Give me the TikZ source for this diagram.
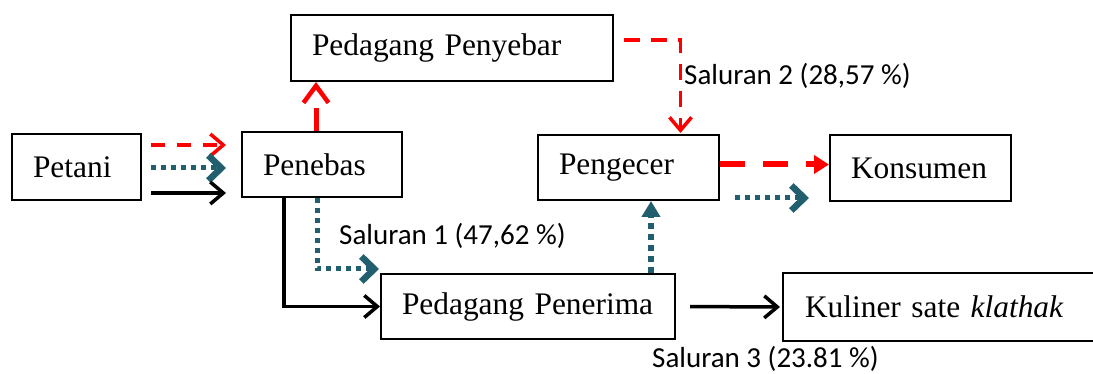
\documentclass[tikz,border=0pt]{standalone}
\usepackage{fontspec}
\setmainfont{Liberation Serif}
\newfontfamily\lblfont{Carlito}
\usetikzlibrary{arrows.meta,calc}
\definecolor{tealc}{RGB}{33,94,110}
\definecolor{redc}{RGB}{255,0,0}
\begin{document}
\begin{tikzpicture}[x=1pt,y=-1pt,
  box/.style={draw=black, line width=2pt, anchor=north west, inner ysep=0pt, inner xsep=21pt,
    align=left, font=\fontsize{31.4}{36}\selectfont},
  lbl/.style={anchor=base west, inner sep=0pt, font=\lblfont\fontsize{29}{33}\selectfont},
  blk/.style={draw=black, line width=3.5pt, -{Straight Barb[length=13pt,width=22pt,line width=3.5pt]}},
  redthin/.style={draw=redc, line width=3.5pt, dash pattern=on 14pt off 12pt,
    -{Straight Barb[length=13pt,width=22pt,line width=3.5pt]}},
  redthick/.style={draw=redc, line width=5pt, dash pattern=on 23pt off 30pt,
    -{Straight Barb[length=17pt,width=25pt,line width=4.5pt]}},
  redfill/.style={draw=redc, line width=6pt, dash pattern=on 25pt off 18pt,
    -{Triangle[length=15pt,width=18pt]}},
  tealdot/.style={draw=tealc, line width=5pt, dash pattern=on 5pt off 5pt,
    -{Straight Barb[length=13pt,width=25pt,line width=6.5pt]}},
  tealfill/.style={draw=tealc, line width=5.5pt, dash pattern=on 6pt off 5pt,
    -{Triangle[length=16pt,width=18pt]}}
]
\useasboundingbox (0,0) rectangle (1093,374);
\clip (0,0) rectangle (1093,374);

% boxes
\node[box, text width=87pt,  minimum height=66pt] (petani)   at (11,133)  {Petani};
\node[box, text width=118pt, minimum height=65pt] (penebas)  at (241,131) {Penebas};
\node[box, text width=280pt, minimum height=66pt] (penyebar) at (290,14)  {Pedagang Penyebar};
\node[box, text width=139pt, minimum height=65pt] (pengecer) at (537,134) {Pengecer};
\node[box, text width=139pt, minimum height=66pt] (konsumen) at (829,134) {Konsumen};
\node[box, text width=252pt, minimum height=65pt] (penerima) at (380,273) {Pedagang Penerima};
\node[box, draw=none, text width=340pt, minimum height=66pt] (kuliner) at (783,273) {Kuliner sate \textit{klathak}};
\draw[line width=2pt] (kuliner.north east) -- (kuliner.north west) -- (kuliner.south west) -- (kuliner.south east);

% Petani -> Penebas
\coordinate (r0) at ($(petani.east)+(9,-22)$);
\coordinate (t0) at ($(petani.east)+(9,1)$);
\coordinate (b0) at ($(petani.east)+(9,26)$);
\draw[redthin] (r0) -- ($(r0 -| penebas.west)+(-15,0)$);
\draw[tealdot] (t0) -- ($(t0 -| penebas.west)+(-15,0)$);
\draw[blk] (b0) -- ($(b0 -| penebas.west)+(-15,0)$);

% Penebas -> Pedagang Penyebar
\coordinate (p0) at ($(penebas.north)+(-6,0)$);
\draw[redthick] (p0) -- (p0 |- penyebar.south);

% Pedagang Penyebar -> Pengecer
\coordinate (s0) at ($(penyebar.east)+(10,-8)$);
\coordinate (s1) at ($(pengecer.north)+(52,-1)$);
\draw[redthin, dash pattern=on 16pt off 11pt] (s0) -| (s1);

% Pengecer -> Konsumen
\coordinate (k0) at ($(pengecer.east)+(0,-3)$);
\draw[redfill] (k0) -- (k0 -| konsumen.west);
\coordinate (k1) at ($(pengecer.east)+(15,30.5)$);
\draw[tealdot] (k1) -- ($(k1 -| konsumen.west)+(-20,0)$);

% Pedagang Penerima -> Pengecer
\coordinate (q0) at ($(penerima.north)+(123,0)$);
\draw[tealfill] (q0) -- (q0 |- pengecer.south);

% Penebas -> Pedagang Penerima
\coordinate (d0) at ($(penebas.south)+(-5,0)$);
\draw[tealdot] (d0) |- ($(penerima.north west)+(-1,-4)$);
\coordinate (e0) at ($(penebas.south)+(-38,0)$);
\draw[blk] (e0) |- (penerima.west);

% Pedagang Penerima -> Kuliner
\draw[blk, shorten <=14pt, shorten >=3pt] (penerima.east) -- (kuliner.west);

% labels
\node[lbl] (l1) at (339,245) {Saluran 1 (47,62 \%)};
\node[lbl] (l2) at (684,85)  {Saluran 2 (28,57 \%)};
\node[lbl] (l3) at (652,367) {Saluran 3 (23.81 \%)};
\end{tikzpicture}
\end{document}
